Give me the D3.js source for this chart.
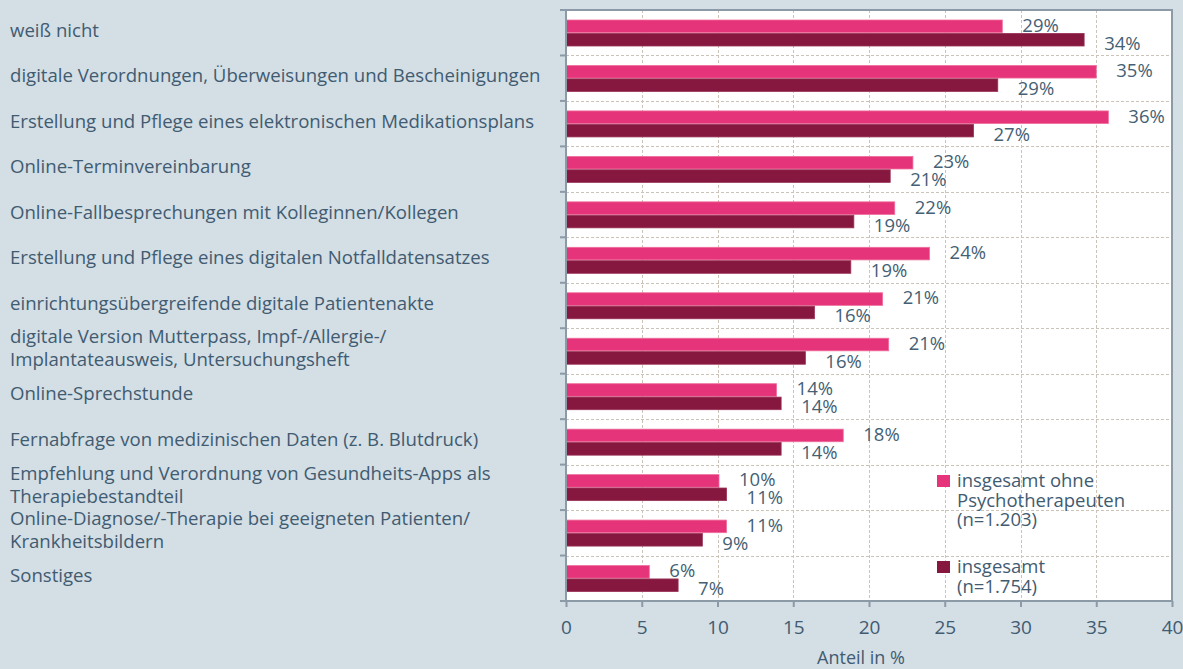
<!DOCTYPE html>
<html>
<head>
<meta charset="utf-8">
<script src="https://cdn.jsdelivr.net/npm/d3@7"></script>
<style>
  html, body { margin: 0; padding: 0; background: #d3dee5; }
  svg { display: block; font-family: "Open Sans", Lato, sans-serif; }
</style>
</head>
<body>
<svg id="chart" width="1183" height="669"></svg>
<script>
// categories, top to bottom ("\n" = line break in the label)
const categories = [
  "weiß nicht",
  "digitale Verordnungen, Überweisungen und Bescheinigungen",
  "Erstellung und Pflege eines elektronischen Medikationsplans",
  "Online-Terminvereinbarung",
  "Online-Fallbesprechungen mit Kolleginnen/Kollegen",
  "Erstellung und Pflege eines digitalen Notfalldatensatzes",
  "einrichtungsübergreifende digitale Patientenakte",
  "digitale Version Mutterpass, Impf-/Allergie-/\nImplantateausweis, Untersuchungsheft",
  "Online-Sprechstunde",
  "Fernabfrage von medizinischen Daten (z. B. Blutdruck)",
  "Empfehlung und Verordnung von Gesundheits-Apps als\nTherapiebestandteil",
  "Online-Diagnose/-Therapie bei geeigneten Patienten/\nKrankheitsbildern",
  "Sonstiges"
];

// insgesamt ohne Psychotherapeuten (n=1.203)
const ohnePsychValues = [28.8, 35.0, 35.8, 22.9, 21.7, 24.0, 20.9, 21.3, 13.9, 18.3, 10.1, 10.6, 5.5];
// insgesamt (n=1.754)
const gesamtValues = [34.2, 28.5, 26.9, 21.4, 19.0, 18.8, 16.4, 15.8, 14.2, 14.2, 10.6, 9.0, 7.4];

const seriesKeys = ["ohnePsych", "gesamt"];
const legendLabels = ["insgesamt ohne\nPsychotherapeuten\n(n=1.203)", "insgesamt\n(n=1.754)"];
const xTicks = [0, 5, 10, 15, 20, 25, 30, 35, 40];
const axisTitle = "Anteil in %";

const colors = { ohnePsych: "#e6347a", gesamt: "#86173f" };
const textColor = "#415b71";

const rows = categories.map((c, i) => ({
  cat: c,
  ohnePsych: ohnePsychValues[i],
  gesamt: gesamtValues[i]
}));

const plot = { left: 566, right: 1172, top: 10, bottom: 601 };
const svg = d3.select("#chart");

const x = d3.scaleLinear().domain([0, 40]).range([plot.left, plot.right]);
const y = d3.scaleBand().domain(categories).range([plot.top, plot.bottom]);
const ySeries = d3.scaleBand().domain(seriesKeys).range([10, 36]).paddingInner(0.06);

// white plot area
svg.append("rect")
  .attr("x", plot.left).attr("y", plot.top)
  .attr("width", plot.right - plot.left).attr("height", plot.bottom - plot.top)
  .attr("fill", "#ffffff");

// gridlines
const grid = svg.append("g")
  .attr("stroke", "#cbc2b8")
  .attr("stroke-width", 1)
  .attr("stroke-dasharray", "3,2");
grid.selectAll("line.v")
  .data(xTicks.slice(1, -1))
  .join("line")
  .attr("class", "v")
  .attr("x1", d => Math.round(x(d)) + 0.5).attr("x2", d => Math.round(x(d)) + 0.5)
  .attr("y1", plot.top).attr("y2", plot.bottom);
grid.selectAll("line.h")
  .data(categories.slice(1))
  .join("line")
  .attr("class", "h")
  .attr("x1", plot.left).attr("x2", plot.right)
  .attr("y1", d => Math.round(y(d)) + 0.5).attr("y2", d => Math.round(y(d)) + 0.5);

// frame top / right
svg.append("path")
  .attr("d", `M${plot.left},${plot.top}H${plot.right}V${plot.bottom}`)
  .attr("fill", "none")
  .attr("stroke", "#8c99a6")
  .attr("stroke-width", 2);

// bars
const groups = svg.append("g")
  .selectAll("g")
  .data(rows)
  .join("g")
  .attr("transform", d => `translate(0,${y(d.cat)})`);

groups.selectAll("rect")
  .data(d => seriesKeys.map(k => ({ key: k, value: d[k] })))
  .join("rect")
  .attr("x", x(0))
  .attr("y", d => ySeries(d.key))
  .attr("width", d => x(d.value) - x(0))
  .attr("height", ySeries.bandwidth())
  .attr("fill", d => colors[d.key])
  .attr("stroke", d => d.key === "ohnePsych" ? "#ef6f9c" : "#9a3256")
  .attr("stroke-width", 0.8);

// value labels
const labelOffsetY = { ohnePsych: -1, gesamt: 17 };
groups.selectAll("text")
  .data(d => seriesKeys.map(k => ({ key: k, value: d[k] })))
  .join("text")
  .attr("x", d => x(d.value) + 20)
  .attr("y", d => y.bandwidth() / 2 + labelOffsetY[d.key])
  .attr("fill", "#455f74")
  .attr("font-size", 18.5)
  .text(d => `${Math.round(d.value)}%`);

// left axis (line + ticks at band boundaries)
const yAxis = svg.append("g").attr("stroke", "#8c99a6").attr("stroke-width", 2);
yAxis.append("line")
  .attr("x1", plot.left).attr("x2", plot.left)
  .attr("y1", plot.top - 1).attr("y2", plot.bottom + 1);
yAxis.selectAll("line.t")
  .data(categories.concat([null]))
  .join("line")
  .attr("class", "t")
  .attr("x1", plot.left - 6).attr("x2", plot.left)
  .attr("y1", d => d === null ? plot.bottom : y(d))
  .attr("y2", d => d === null ? plot.bottom : y(d));

// bottom axis
const xAxis = svg.append("g")
  .attr("transform", `translate(0,${plot.bottom})`)
  .call(d3.axisBottom(x).tickValues(xTicks).tickSize(6).tickPadding(14).tickFormat(d3.format("d")));
xAxis.select(".domain").attr("stroke", "#8c99a6").attr("stroke-width", 2)
  .attr("d", `M${plot.left - 6},0H${plot.right + 1}`);
xAxis.selectAll(".tick line").attr("stroke", "#8c99a6").attr("stroke-width", 2);
xAxis.selectAll(".tick text")
  .attr("fill", textColor)
  .attr("font-size", 19)
  .attr("font-family", "'Open Sans', sans-serif");

svg.append("text")
  .attr("x", (plot.left + plot.right) / 2 - 8)
  .attr("y", 664)
  .attr("text-anchor", "middle")
  .attr("fill", textColor)
  .attr("font-size", 18)
  .text(axisTitle);

// category labels
const catLabels = svg.append("g")
  .selectAll("text")
  .data(categories)
  .join("text")
  .attr("x", 10)
  .attr("y", d => y(d) + y.bandwidth() / 2)
  .attr("fill", textColor)
  .attr("font-size", 18.6);
catLabels.each(function (d) {
  const lines = d.split("\n");
  const lh = 23;
  const start = -((lines.length - 1) * lh) / 2 + 4;
  d3.select(this).selectAll("tspan")
    .data(lines)
    .join("tspan")
    .attr("x", 10)
    .attr("dy", (l, i) => i === 0 ? start : lh)
    .text(l => l);
});

// legend
const legend = svg.append("g")
  .selectAll("g")
  .data(seriesKeys)
  .join("g")
  .attr("transform", (d, i) => `translate(937,${i === 0 ? 475 : 561})`);
legend.append("rect")
  .attr("width", 13).attr("height", 12)
  .attr("fill", d => colors[d]);
legend.append("text")
  .attr("fill", textColor)
  .attr("font-size", 18.5)
  .selectAll("tspan")
  .data((d, i) => legendLabels[i].split("\n"))
  .join("tspan")
  .attr("x", 20)
  .attr("y", (l, i) => 12 + i * 19.5)
  .text(l => l);
</script>
</body>
</html>
